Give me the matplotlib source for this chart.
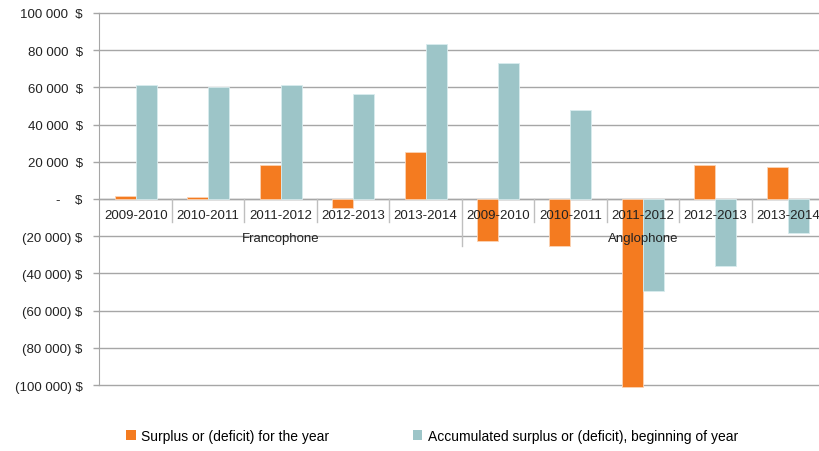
import numpy as np
import matplotlib
matplotlib.use('Agg')
import matplotlib.pyplot as plt
from matplotlib.patches import Patch

plt.rcParams['font.family'] = ['Liberation Sans', 'DejaVu Sans']

# data
years = ['2009-2010', '2010-2011', '2011-2012', '2012-2013', '2013-2014']
groups = ['Francophone', 'Anglophone']
surplus = [1500, 900, 18300, -4800, 25300,
           -22800, -25100, -100900, 18300, 17200]
accumulated = [61100, 60000, 61300, 56500, 83300,
               73000, 47800, -49600, -35900, -18400]
series_names = ['Surplus or (deficit) for the year',
                'Accumulated surplus or (deficit), beginning of year']
orange = '#F47B20'
teal = '#9DC5C8'
grid_c = '#A6A6A6'

fig = plt.figure(figsize=(8.2, 4.52), dpi=100)
ax = fig.add_axes([99.5 / 820, 66 / 452, 724.5 / 820, 372 / 452])

n = len(surplus)
x = np.arange(n)
w = 0.29
ax.bar(x - w / 2, surplus, w, color=orange, edgecolor='#fbd3b5', linewidth=0.6,
       zorder=3, clip_on=False)
ax.bar(x + w / 2, accumulated, w, color=teal, edgecolor='#d8ecee', linewidth=0.6,
       zorder=3, clip_on=False)

ax.set_xlim(-0.5, n - 0.5)
ax.set_ylim(-100000, 100000)
ticks = np.arange(-100000, 100001, 20000)
ax.set_yticks(ticks)


def money(v):
    if v == 0:
        return '-    $'
    s = f'{abs(v):,}'.replace(',', ' ')
    return f'({s}) $' if v < 0 else f'{s}  $'


ax.set_yticklabels([money(v) for v in ticks], fontsize=9.5, color='#222222')
ax.tick_params(axis='y', length=4, width=1, color=grid_c, pad=8)
ax.set_xticks([])
ax.yaxis.grid(True, color=grid_c, linewidth=1, zorder=0)
for gl in ax.get_ygridlines():
    gl.set_clip_on(False)
for s in ['top', 'right', 'bottom']:
    ax.spines[s].set_visible(False)
ax.spines['left'].set_color(grid_c)
ax.axhline(0, color=grid_c, linewidth=1, zorder=2)

# two-level category axis drawn at zero
for i in range(n):
    ax.text(x[i], -8600, years[i % len(years)], ha='center', va='center',
            fontsize=9.5, color='#222222', zorder=5)
for i in range(1, n):
    bottom = -25200 if i == len(years) else -12400
    ax.plot([i - 0.5, i - 0.5], [0, bottom], color='#BFBFBF', linewidth=1, zorder=4)
for g, name in enumerate(groups):
    ax.text(g * len(years) + (len(years) - 1) / 2, -21000, name, ha='center',
            va='center', fontsize=9.5, color='#222222', zorder=5)

handles = [Patch(facecolor=orange), Patch(facecolor=teal)]
fig.legend(handles, series_names, loc='center', bbox_to_anchor=(432 / 820, 1 - 437 / 452),
           ncol=2, frameon=False, fontsize=10, handlelength=0.7, handleheight=0.7,
           handletextpad=0.4, columnspacing=6.0)

fig.savefig('out.png', dpi=100, facecolor='white')
